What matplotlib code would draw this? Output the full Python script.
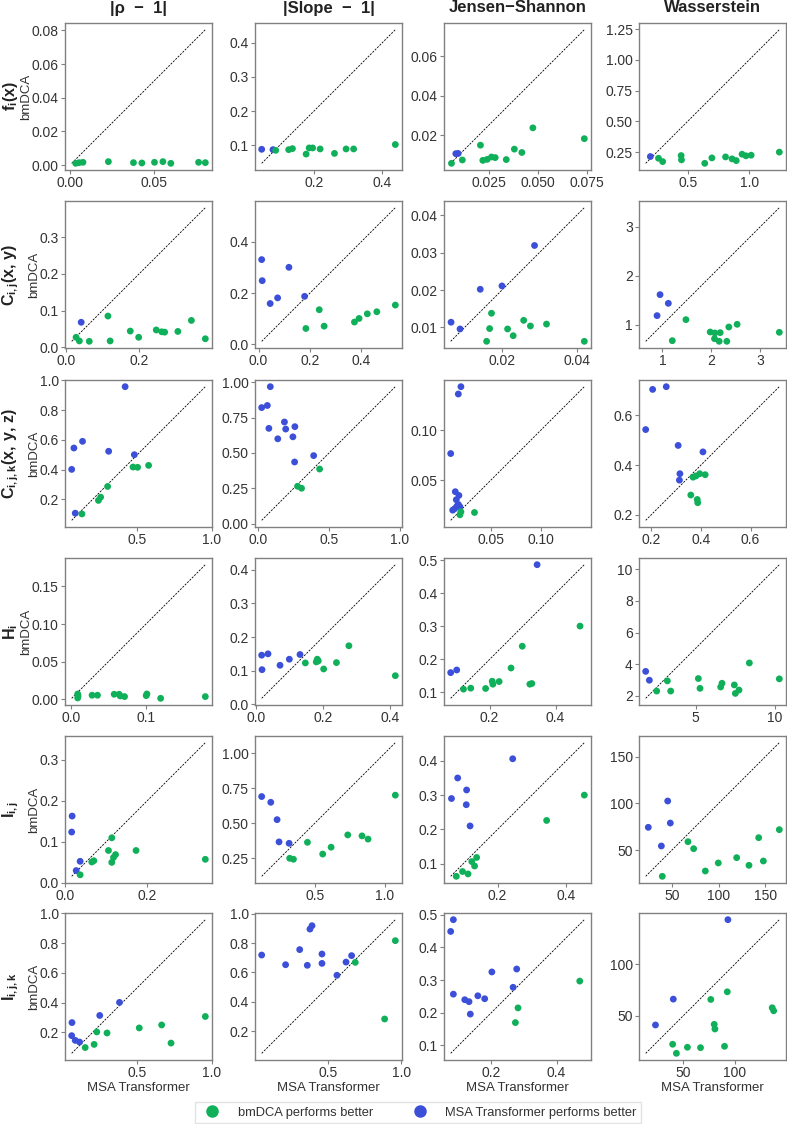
"""
bmDCA vs MSA Transformer: statistics errors per protein family.
"""

import numpy as np
import matplotlib
matplotlib.use("Agg")
import matplotlib.pyplot as plt
from matplotlib.lines import Line2D
from matplotlib.ticker import FixedLocator

plt.rcParams['font.family'] = ['Liberation Sans', 'DejaVu Sans']
plt.rcParams['mathtext.fontset'] = 'custom'
plt.rcParams['mathtext.rm'] = 'Liberation Sans'
plt.rcParams['mathtext.it'] = 'Liberation Sans:italic'
plt.rcParams['mathtext.bf'] = 'Liberation Sans:bold'

# ---------- data: one list per metric column (|rho-1|, |slope-1|, JS, Wasserstein) ----------
metric_titles = ["|ρ  −  1|", "|Slope  −  1|", "Jensen−Shannon", "Wasserstein"]
row_labels = [r"$\mathbf{f_i(x)}$", r"$\mathbf{C_{i,j}(x,\,y)}$", r"$\mathbf{C_{i,j,k}(x,\,y,\,z)}$",
              r"$\mathbf{H_i}$", r"$\mathbf{I_{i,j}}$", r"$\mathbf{I_{i,j,k}}$"]

# f_i(x)
fi_msa = [
    [0.0034, 0.0054, 0.0077, 0.0228, 0.0377, 0.0427, 0.0502, 0.0552, 0.0599, 0.0764, 0.0804],
    [0.047, 0.080, 0.088, 0.126, 0.137, 0.177, 0.186, 0.196, 0.218, 0.260, 0.294, 0.316, 0.438],
    [0.0062, 0.0084, 0.0096, 0.0117, 0.0209, 0.0221, 0.0243, 0.0265, 0.0284, 0.0340, 0.0381, 0.0419, 0.0475, 0.0736],
    [0.197, 0.263, 0.297, 0.447, 0.450, 0.639, 0.697, 0.808, 0.861, 0.895, 0.942, 0.974, 1.016, 1.245],
]
fi_bmdca = [
    [0.0010, 0.0014, 0.0016, 0.0020, 0.0014, 0.0012, 0.0016, 0.0020, 0.0010, 0.0016, 0.0014],
    [0.088, 0.087, 0.085, 0.087, 0.090, 0.074, 0.092, 0.092, 0.089, 0.076, 0.089, 0.089, 0.102],
    [0.0058, 0.0107, 0.0108, 0.0075, 0.0150, 0.0073, 0.0078, 0.0090, 0.0087, 0.0077, 0.0130, 0.0113, 0.0238, 0.0183],
    [0.214, 0.200, 0.173, 0.222, 0.187, 0.159, 0.203, 0.211, 0.195, 0.181, 0.233, 0.220, 0.225, 0.250],
]

# C_ij(x, y)
cij_msa = [
    [0.042, 0.028, 0.037, 0.064, 0.115, 0.121, 0.176, 0.199, 0.247, 0.262, 0.270, 0.306, 0.343, 0.381],
    [0.012, 0.014, 0.045, 0.074, 0.118, 0.179, 0.184, 0.236, 0.255, 0.373, 0.391, 0.423, 0.460, 0.532],
    [0.0064, 0.0088, 0.0142, 0.0200, 0.0287, 0.0159, 0.0167, 0.0172, 0.0215, 0.0230, 0.0258, 0.0276, 0.0319, 0.0420],
    [0.892, 0.953, 1.122, 1.203, 1.481, 1.976, 2.064, 2.071, 2.159, 2.180, 2.315, 2.356, 2.525, 3.386],
]
cij_bmdca = [
    [0.068, 0.027, 0.017, 0.016, 0.085, 0.017, 0.044, 0.027, 0.047, 0.042, 0.041, 0.043, 0.073, 0.023],
    [0.330, 0.248, 0.159, 0.181, 0.300, 0.187, 0.062, 0.135, 0.071, 0.087, 0.101, 0.119, 0.127, 0.153],
    [0.0114, 0.0096, 0.0202, 0.0211, 0.0319, 0.0063, 0.0097, 0.0138, 0.0096, 0.0078, 0.0119, 0.0104, 0.0109, 0.0063],
    [1.184, 1.612, 1.435, 0.673, 1.102, 0.850, 0.714, 0.830, 0.660, 0.837, 0.660, 0.952, 1.007, 0.844],
]

# C_ijk(x, y, z)
cijk_msa = [
    [0.058, 0.073, 0.131, 0.307, 0.418, 0.480, 0.082, 0.127, 0.238, 0.253, 0.300, 0.471, 0.502, 0.576],
    [0.023, 0.063, 0.084, 0.074, 0.184, 0.193, 0.137, 0.244, 0.258, 0.256, 0.391, 0.277, 0.305, 0.433],
    [0.0204, 0.0178, 0.0102, 0.0148, 0.0184, 0.0158, 0.0178, 0.0122, 0.0141, 0.0164, 0.0194, 0.0204, 0.0194, 0.0339],
    [0.177, 0.205, 0.260, 0.308, 0.408, 0.315, 0.313, 0.359, 0.368, 0.380, 0.395, 0.417, 0.385, 0.387],
]
cijk_bmdca = [
    [0.401, 0.545, 0.590, 0.523, 0.958, 0.500, 0.106, 0.101, 0.192, 0.214, 0.286, 0.417, 0.415, 0.428],
    [0.821, 0.836, 0.969, 0.674, 0.719, 0.669, 0.600, 0.614, 0.686, 0.436, 0.481, 0.264, 0.250, 0.386],
    [0.1433, 0.1360, 0.0767, 0.0387, 0.0350, 0.0307, 0.0260, 0.0203, 0.0217, 0.0243, 0.0237, 0.0187, 0.0157, 0.0180],
    [0.543, 0.705, 0.716, 0.479, 0.453, 0.365, 0.339, 0.279, 0.351, 0.356, 0.365, 0.361, 0.261, 0.248],
]

# H_i
hi_msa = [
    [0.0093, 0.0098, 0.0093, 0.0284, 0.0356, 0.0578, 0.0644, 0.0658, 0.0716, 0.1004, 0.1013, 0.1196, 0.1790],
    [0.0178, 0.0188, 0.0366, 0.0723, 0.1000, 0.1317, 0.1475, 0.1800, 0.1830, 0.1860, 0.2020, 0.2400, 0.2770, 0.4150],
    [0.0822, 0.1005, 0.344, 0.121, 0.143, 0.188, 0.208, 0.210, 0.229, 0.265, 0.299, 0.322, 0.328, 0.474],
    [1.835, 2.068, 2.532, 3.207, 3.418, 5.169, 5.274, 6.582, 6.667, 7.447, 7.511, 7.743, 8.397, 10.295],
]
hi_bmdca = [
    [0.0071, 0.0045, 0.0018, 0.0054, 0.0054, 0.0067, 0.0067, 0.0045, 0.0036, 0.0049, 0.0071, 0.0013, 0.0036],
    [0.146, 0.103, 0.150, 0.116, 0.134, 0.148, 0.123, 0.126, 0.134, 0.129, 0.105, 0.124, 0.174, 0.085],
    [0.160, 0.168, 0.487, 0.110, 0.113, 0.112, 0.134, 0.125, 0.133, 0.174, 0.240, 0.125, 0.127, 0.301],
    [3.539, 2.981, 2.295, 2.938, 2.295, 3.088, 2.466, 2.552, 2.788, 2.681, 2.145, 2.359, 4.075, 3.067],
]

# I_ij
iij_msa = [
    [0.0171, 0.0160, 0.0366, 0.0270, 0.0366, 0.065, 0.070, 0.1057, 0.1138, 0.1138, 0.118, 0.123, 0.173, 0.342],
    [0.121, 0.186, 0.231, 0.245, 0.317, 0.321, 0.348, 0.448, 0.557, 0.617, 0.736, 0.838, 0.881, 1.076],
    [0.0653, 0.0834, 0.1095, 0.1085, 0.1196, 0.244, 0.0794, 0.0975, 0.1136, 0.1246, 0.1327, 0.1387, 0.343, 0.453],
    [24.6, 38.6, 45.4, 48.2, 39.6, 67.1, 73.2, 85.7, 99.6, 119.3, 132.5, 142.9, 147.9, 165.0],
]
iij_bmdca = [
    [0.163, 0.124, 0.0526, 0.030, 0.0197, 0.051, 0.054, 0.079, 0.110, 0.050, 0.062, 0.069, 0.079, 0.0575],
    [0.691, 0.650, 0.526, 0.367, 0.357, 0.250, 0.243, 0.364, 0.280, 0.329, 0.417, 0.410, 0.387, 0.701],
    [0.290, 0.350, 0.315, 0.272, 0.210, 0.406, 0.063, 0.077, 0.070, 0.106, 0.093, 0.118, 0.226, 0.300],
    [74.3, 54.3, 102.5, 78.9, 21.8, 58.9, 51.4, 27.5, 36.1, 41.8, 33.6, 63.2, 38.2, 71.8],
]

# I_ijk
iijk_msa = [
    [0.060, 0.058, 0.082, 0.111, 0.247, 0.380, 0.149, 0.209, 0.227, 0.296, 0.513, 0.664, 0.727, 0.958],
    [0.048, 0.211, 0.307, 0.359, 0.377, 0.391, 0.459, 0.459, 0.561, 0.623, 0.661, 0.686, 0.886, 0.959],
    [0.0841, 0.0759, 0.0841, 0.119, 0.132, 0.136, 0.159, 0.180, 0.202, 0.267, 0.278, 0.274, 0.282, 0.471],
    [23.0, 40.3, 93.3, 39.7, 43.3, 54.0, 66.7, 76.7, 80.0, 80.7, 90.0, 92.7, 136.3, 137.7],
]
iijk_bmdca = [
    [0.265, 0.177, 0.145, 0.134, 0.313, 0.401, 0.097, 0.118, 0.202, 0.195, 0.229, 0.249, 0.127, 0.306],
    [0.718, 0.652, 0.755, 0.648, 0.895, 0.918, 0.725, 0.661, 0.580, 0.670, 0.714, 0.668, 0.282, 0.816],
    [0.485, 0.449, 0.257, 0.240, 0.234, 0.196, 0.252, 0.243, 0.325, 0.278, 0.334, 0.170, 0.215, 0.297],
    [41.0, 66.1, 143.2, 22.3, 13.5, 19.4, 19.0, 65.8, 41.6, 37.1, 20.3, 73.2, 57.7, 54.8],
]

# tick labels shown on each panel
fi_xticks = [[0.0, 0.05], [0.2, 0.4], [0.025, 0.05, 0.075], [0.5, 1.0]]
fi_yticks = [[0.0, 0.02, 0.04, 0.06, 0.08], [0.1, 0.2, 0.3, 0.4], [0.02, 0.04, 0.06], [0.25, 0.5, 0.75, 1.0, 1.25]]
cij_xticks = [[0.0, 0.2], [0.0, 0.2, 0.4], [0.02, 0.04], [1, 2, 3]]
cij_yticks = [[0.0, 0.1, 0.2, 0.3], [0.0, 0.2, 0.4], [0.01, 0.02, 0.03, 0.04], [1, 2, 3]]
cijk_xticks = [[0.5, 1.0], [0.0, 0.5, 1.0], [0.05, 0.10], [0.2, 0.4, 0.6]]
cijk_yticks = [[0.2, 0.4, 0.6, 0.8, 1.0], [0.0, 0.25, 0.5, 0.75, 1.0], [0.05, 0.10], [0.2, 0.4, 0.6]]
hi_xticks = [[0.0, 0.1], [0.0, 0.2, 0.4], [0.2, 0.4], [5, 10]]
hi_yticks = [[0.0, 0.05, 0.10, 0.15], [0.0, 0.1, 0.2, 0.3, 0.4], [0.1, 0.2, 0.3, 0.4, 0.5], [2, 4, 6, 8, 10]]
iij_xticks = [[0.0, 0.2], [0.5, 1.0], [0.2, 0.4], [50, 100, 150]]
iij_yticks = [[0.0, 0.1, 0.2, 0.3], [0.25, 0.5, 0.75, 1.0], [0.1, 0.2, 0.3, 0.4], [50, 100, 150]]
iijk_xticks = [[0.5, 1.0], [0.5, 1.0], [0.2, 0.4], [50, 100]]
iijk_yticks = [[0.2, 0.4, 0.6, 0.8, 1.0], [0.2, 0.4, 0.6, 0.8, 1.0], [0.1, 0.2, 0.3, 0.4, 0.5], [50, 100]]

GREEN = '#10b05a'
BLUE = '#3c4fd8'

rows = [
    (fi_msa, fi_bmdca, fi_xticks, fi_yticks),
    (cij_msa, cij_bmdca, cij_xticks, cij_yticks),
    (cijk_msa, cijk_bmdca, cijk_xticks, cijk_yticks),
    (hi_msa, hi_bmdca, hi_xticks, hi_yticks),
    (iij_msa, iij_bmdca, iij_xticks, iij_yticks),
    (iijk_msa, iijk_bmdca, iijk_xticks, iijk_yticks),
]

# ---------- layout (pixels) ----------
W, H = 787, 1124
col_left = [65, 255, 444, 639]
row_top = [23, 201, 380, 558, 736, 913]
box = 147

fig = plt.figure(figsize=(W / 100, H / 100), dpi=100)

for r, (xs, ys, xts, yts) in enumerate(rows):
    for c in range(4):
        ax = fig.add_axes([col_left[c] / W, 1 - (row_top[r] + box) / H, box / W, box / H])
        x = np.array(xs[c])
        y = np.array(ys[c])
        lo = min(x.min(), y.min())
        hi = max(x.max(), y.max())
        # y = x reference line across the full data range
        ax.plot([lo, hi], [lo, hi], ls=(0, (2.5, 1.5)), color='black', lw=0.6, zorder=1)
        colors = np.where(y < x, GREEN, BLUE)
        ax.scatter(x, y, c=colors, s=24, lw=0, zorder=3)

        ax.xaxis.set_major_locator(FixedLocator(xts[c]))
        ax.yaxis.set_major_locator(FixedLocator(yts[c]))
        ax.tick_params(length=3, width=0.8, color='#808080', labelsize=10,
                       labelcolor='#333333', pad=1.5)
        for s in ax.spines.values():
            s.set_color('#808080')
            s.set_linewidth(1.0)

        if c == 0:
            ax.set_ylabel('bmDCA', fontsize=9.5, color='#333333', labelpad=-0.5)
            fig.text(11 / W, 1 - (row_top[r] + box / 2) / H, row_labels[r], rotation=90,
                     ha='center', va='center', fontsize=11.5, color='#222222')
        if r == len(rows) - 1:
            ax.set_xlabel('MSA Transformer', fontsize=9.5, color='#333333', labelpad=1)
        if r == 0:
            fig.text((col_left[c] + box / 2) / W, 1 - 8 / H, metric_titles[c],
                     ha='center', va='center', fontsize=12, fontweight='bold', color='#222222')

handles = [
    Line2D([], [], marker='o', ls='', color=GREEN, markersize=8, label='bmDCA performs better'),
    Line2D([], [], marker='o', ls='', color=BLUE, markersize=8, label='MSA Transformer performs better'),
]
leg = fig.legend(handles=handles, loc='center', bbox_to_anchor=(418 / W, 1 - 1112.5 / H), ncol=2,
                 fontsize=9.3, frameon=True, fancybox=False, edgecolor='#dddddd',
                 columnspacing=2.6, handletextpad=1.0, borderpad=0.35)
for t in leg.get_texts():
    t.set_color('#333333')

fig.savefig('out.png', dpi=100)
